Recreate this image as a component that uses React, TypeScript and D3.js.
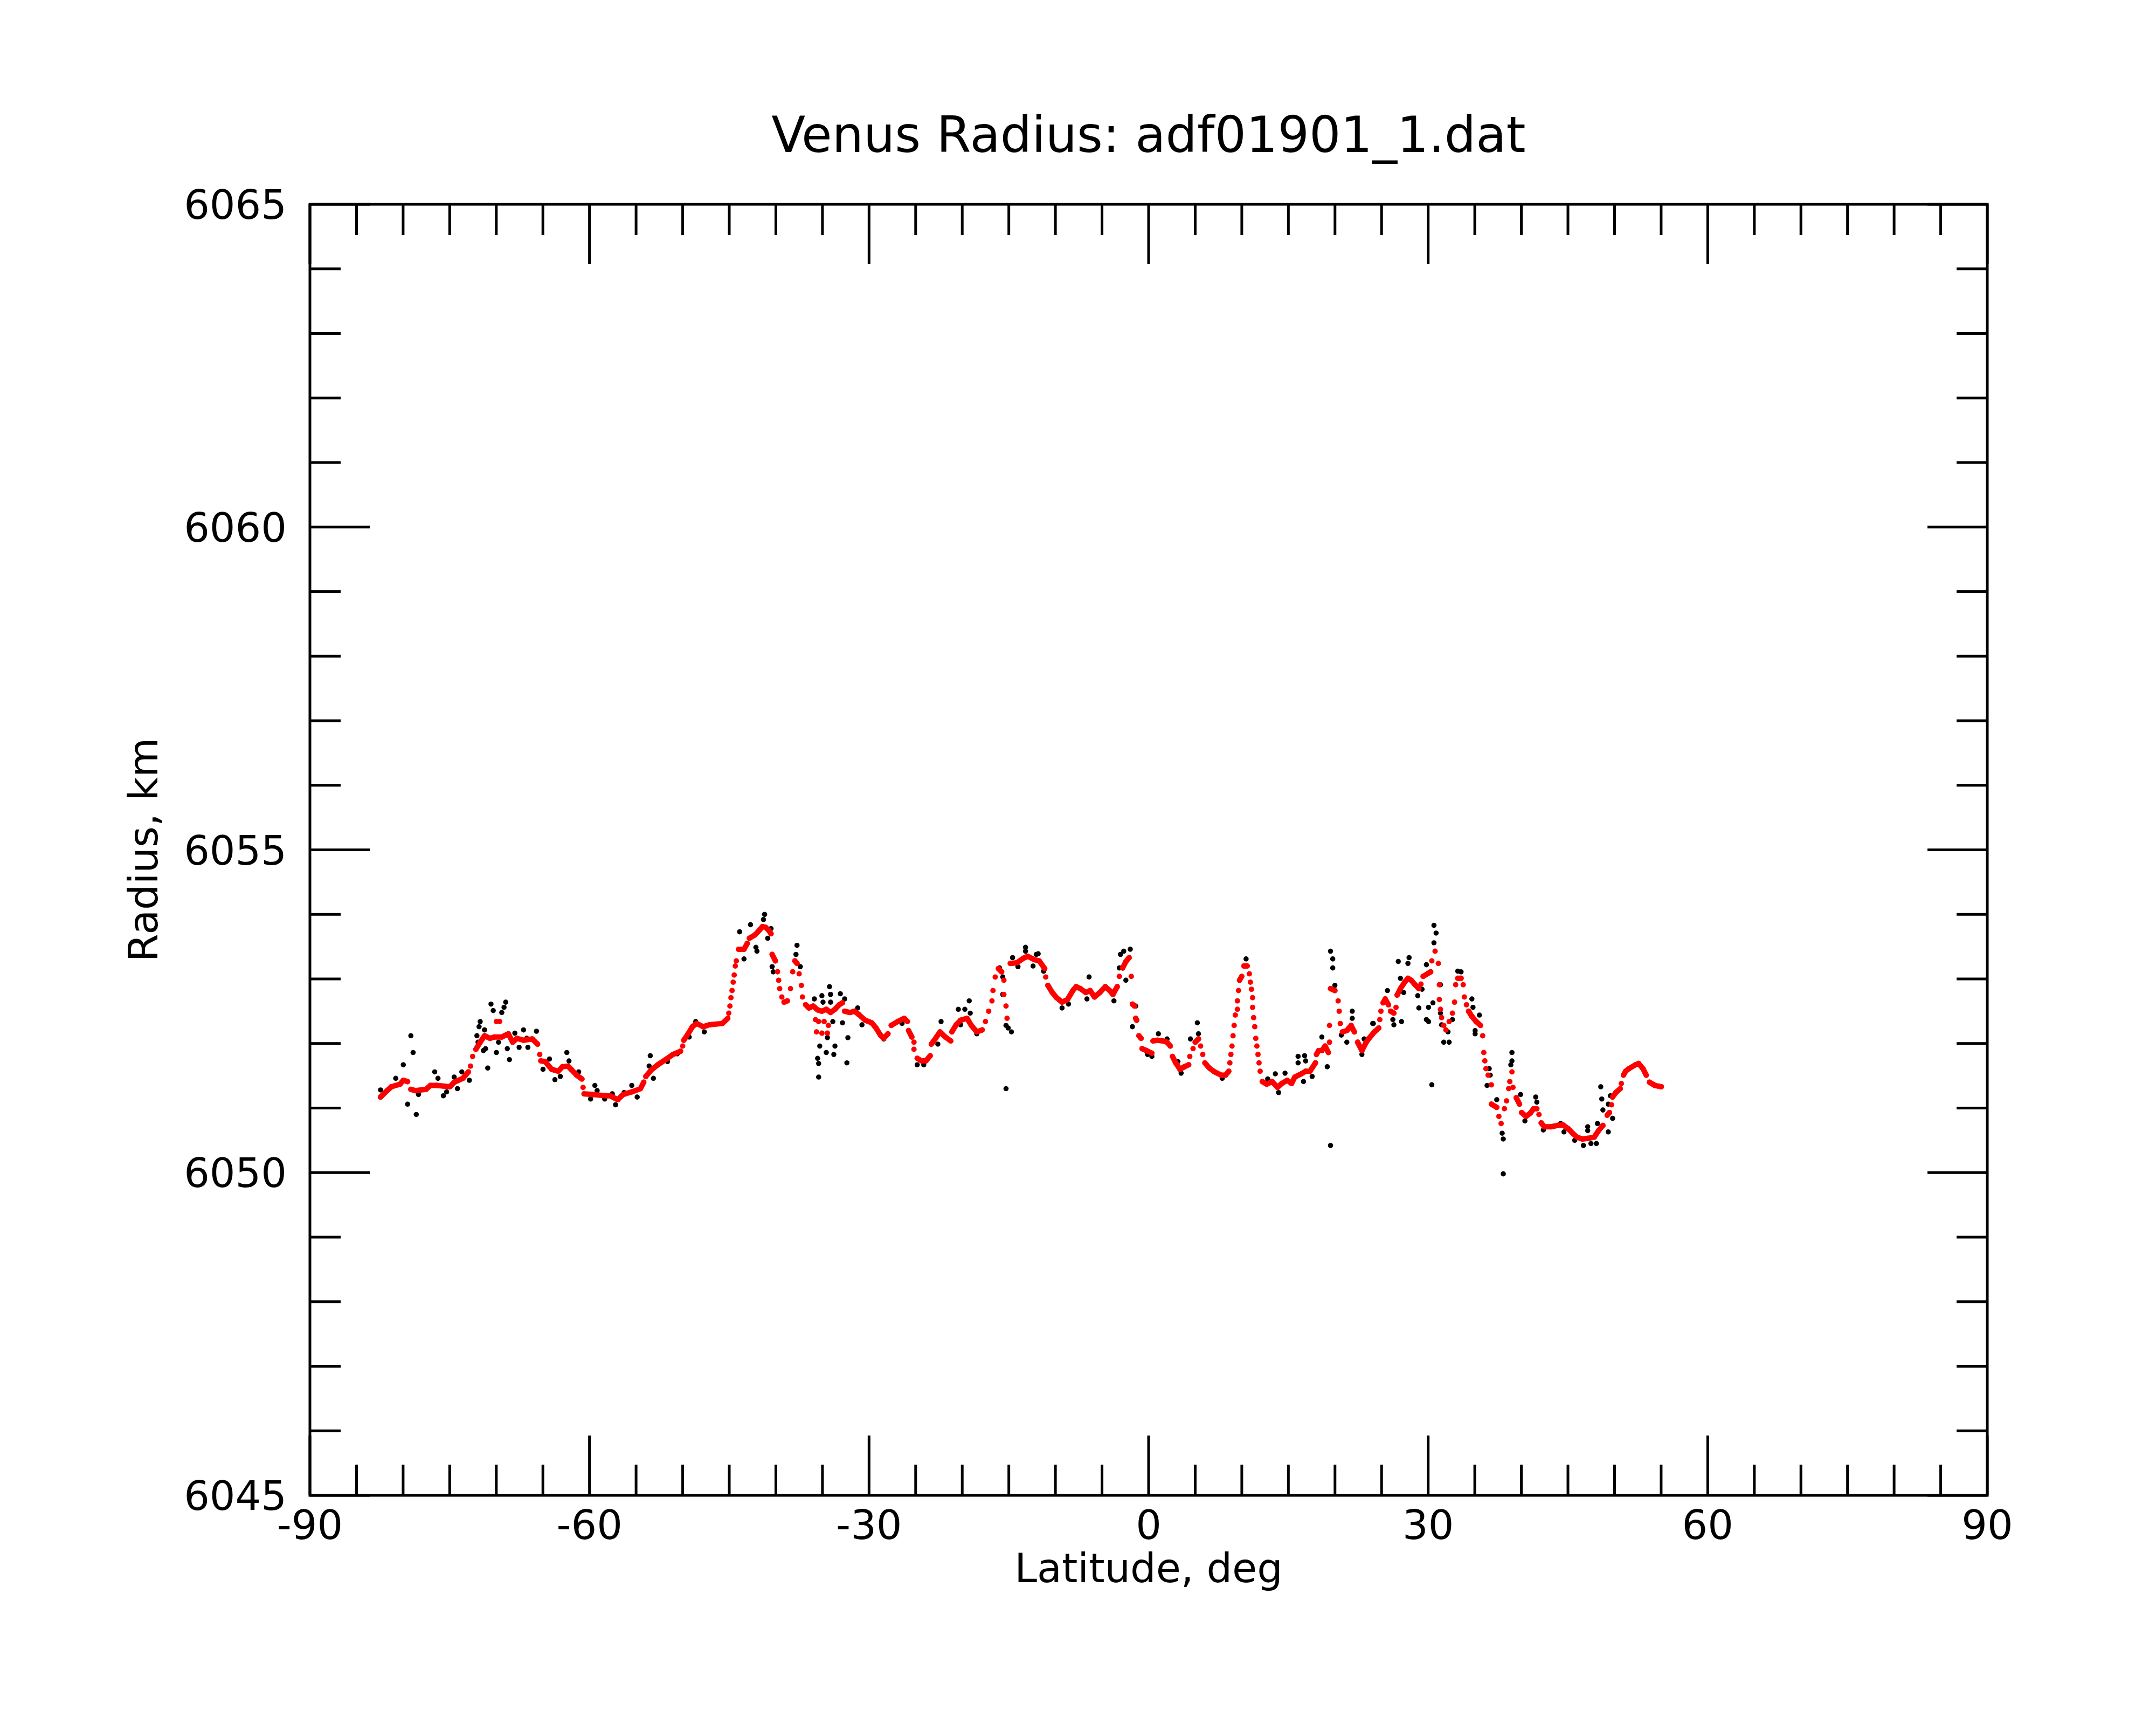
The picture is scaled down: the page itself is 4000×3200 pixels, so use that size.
import React from 'react';
import * as d3 from 'd3';

// smoothed radius profile (red), [latitude deg, radius km]
const redPoints: [number, number][] = [
  [-82.42, 6051.17], [-81.72, 6051.27], [-81.26, 6051.33], [-80.33, 6051.37], [-79.98, 6051.43],
  [-79.52, 6051.41], [-79.17, 6051.29], [-78.7, 6051.27], [-77.54, 6051.29], [-77.08, 6051.35],
  [-76.38, 6051.35], [-74.98, 6051.33], [-74.52, 6051.4], [-73.59, 6051.46], [-73.0, 6051.56],
  [-72.77, 6051.65], [-72.54, 6051.8], [-72.19, 6051.91], [-71.73, 6052.02], [-71.26, 6052.12],
  [-70.68, 6052.08], [-70.22, 6052.1], [-69.41, 6052.1], [-68.71, 6052.15], [-68.24, 6052.02],
  [-67.78, 6052.08], [-67.08, 6052.05], [-66.15, 6052.07], [-65.57, 6051.99], [-65.34, 6051.83],
  [-65.22, 6051.73], [-64.76, 6051.72], [-64.06, 6051.6], [-63.36, 6051.57], [-62.9, 6051.64],
  [-62.32, 6051.65], [-61.97, 6051.6], [-61.39, 6051.51], [-60.81, 6051.45], [-60.69, 6051.32],
  [-60.58, 6051.22], [-59.65, 6051.21], [-58.25, 6051.19], [-57.79, 6051.19], [-56.97, 6051.13],
  [-56.39, 6051.21], [-55.46, 6051.25], [-54.53, 6051.3], [-54.18, 6051.4], [-53.95, 6051.49],
  [-53.37, 6051.59], [-52.67, 6051.67], [-51.74, 6051.76], [-51.05, 6051.83], [-50.23, 6051.88],
  [-50.0, 6051.96], [-49.88, 6052.05], [-49.42, 6052.15], [-48.95, 6052.26], [-48.49, 6052.31],
  [-47.79, 6052.26], [-47.14, 6052.29], [-45.75, 6052.31], [-45.16, 6052.39], [-45.05, 6052.47],
  [-44.93, 6052.58], [-44.82, 6052.71], [-44.7, 6052.82], [-44.58, 6052.95], [-44.47, 6053.06],
  [-44.35, 6053.2], [-44.24, 6053.28], [-44.0, 6053.46], [-43.42, 6053.46], [-43.07, 6053.55],
  [-42.84, 6053.63], [-42.26, 6053.68], [-41.8, 6053.75], [-41.45, 6053.81], [-41.1, 6053.8],
  [-40.75, 6053.75], [-40.52, 6053.7], [-40.4, 6053.38], [-40.05, 6053.28], [-39.82, 6053.11],
  [-39.7, 6052.98], [-39.59, 6052.85], [-39.36, 6052.72], [-39.12, 6052.64], [-38.77, 6052.66],
  [-38.43, 6052.85], [-38.19, 6053.11], [-37.96, 6053.28], [-37.73, 6053.24], [-37.5, 6053.08],
  [-37.26, 6052.9], [-37.15, 6052.72], [-36.8, 6052.6], [-36.45, 6052.55], [-35.99, 6052.58],
  [-35.52, 6052.52], [-35.06, 6052.5], [-34.59, 6052.53], [-34.13, 6052.48], [-33.66, 6052.53],
  [-33.2, 6052.6], [-32.85, 6052.63], [-32.62, 6052.5], [-32.03, 6052.48], [-31.57, 6052.5],
  [-31.11, 6052.45], [-30.41, 6052.36], [-29.71, 6052.32], [-29.25, 6052.24], [-28.78, 6052.13],
  [-28.43, 6052.08], [-27.97, 6052.15], [-27.62, 6052.28], [-26.92, 6052.34], [-26.23, 6052.39],
  [-25.88, 6052.34], [-25.76, 6052.2], [-25.41, 6052.1], [-25.18, 6052.02], [-25.18, 6051.91],
  [-24.83, 6051.77], [-24.37, 6051.73], [-23.9, 6051.73], [-23.44, 6051.81], [-23.32, 6051.99],
  [-22.86, 6052.08], [-22.39, 6052.18], [-21.81, 6052.1], [-21.23, 6052.04], [-21.11, 6052.18],
  [-20.65, 6052.29], [-20.18, 6052.36], [-19.48, 6052.39], [-19.02, 6052.28], [-18.44, 6052.18],
  [-17.86, 6052.21], [-17.51, 6052.34], [-17.16, 6052.5], [-16.81, 6052.66], [-16.7, 6052.82],
  [-16.46, 6053.03], [-16.12, 6053.16], [-15.77, 6053.11], [-15.53, 6052.98], [-15.53, 6052.76],
  [-15.3, 6052.58], [-15.19, 6052.39], [-14.84, 6053.24], [-14.14, 6053.25], [-13.44, 6053.32],
  [-12.98, 6053.35], [-12.28, 6053.3], [-11.74, 6053.28], [-11.15, 6053.16], [-11.04, 6053.03],
  [-10.81, 6052.9], [-10.34, 6052.79], [-9.88, 6052.71], [-9.29, 6052.64], [-8.71, 6052.68],
  [-8.13, 6052.82], [-7.78, 6052.88], [-7.32, 6052.85], [-6.74, 6052.79], [-6.27, 6052.82],
  [-5.81, 6052.72], [-5.23, 6052.79], [-4.65, 6052.88], [-4.18, 6052.82], [-3.83, 6052.76],
  [-3.37, 6052.88], [-3.14, 6053.04], [-2.79, 6053.17], [-2.44, 6053.27], [-2.09, 6053.33],
  [-1.86, 6053.04], [-1.74, 6052.61], [-1.51, 6052.58], [-1.39, 6052.39], [-1.28, 6052.36],
  [-1.04, 6052.12], [-0.81, 6052.08], [-0.7, 6051.92], [-0.23, 6051.89], [0.35, 6051.85],
  [0.47, 6052.04], [0.93, 6052.05], [1.51, 6052.04], [1.98, 6052.02], [2.33, 6051.96],
  [2.56, 6051.8], [2.91, 6051.7], [3.37, 6051.6], [3.84, 6051.64], [4.3, 6051.67],
  [4.42, 6051.8], [4.77, 6051.92], [5.0, 6052.02], [5.35, 6052.07], [5.58, 6051.96],
  [5.81, 6051.83], [6.04, 6051.7], [6.51, 6051.62], [7.09, 6051.56], [7.79, 6051.51],
  [8.25, 6051.51], [8.6, 6051.57], [8.72, 6051.7], [8.83, 6051.83], [8.95, 6051.96],
  [9.06, 6052.12], [9.18, 6052.28], [9.3, 6052.44], [9.53, 6052.53], [9.53, 6052.66],
  [9.65, 6052.82], [9.76, 6052.98], [9.99, 6053.04], [10.23, 6053.2], [10.58, 6053.2],
  [10.81, 6053.08], [10.92, 6052.95], [11.04, 6052.84], [11.16, 6052.71], [11.16, 6052.56],
  [11.27, 6052.4], [11.39, 6052.26], [11.5, 6052.08], [11.62, 6051.96], [11.74, 6051.83],
  [11.85, 6051.7], [11.97, 6051.57], [12.2, 6051.41], [12.67, 6051.37], [13.25, 6051.41],
  [13.83, 6051.32], [14.29, 6051.38], [14.87, 6051.43], [15.34, 6051.38], [15.69, 6051.48],
  [16.39, 6051.53], [16.85, 6051.57], [17.32, 6051.57], [17.9, 6051.7], [18.01, 6051.83],
  [18.24, 6051.89], [18.59, 6051.89], [18.94, 6051.96], [19.29, 6051.86], [19.41, 6052.02],
  [19.41, 6052.28], [19.52, 6052.85], [19.99, 6052.82], [20.34, 6052.66], [20.45, 6052.5],
  [20.57, 6052.31], [20.8, 6052.18], [21.27, 6052.2], [21.73, 6052.28], [22.08, 6052.18],
  [22.43, 6052.02], [22.89, 6051.89], [23.36, 6052.02], [23.65, 6052.08], [24.23, 6052.18],
  [24.7, 6052.24], [24.81, 6052.37], [24.93, 6052.5], [25.16, 6052.63], [25.39, 6052.69],
  [25.74, 6052.6], [25.97, 6052.5], [26.32, 6052.47], [26.55, 6052.56], [26.67, 6052.75],
  [27.02, 6052.85], [27.48, 6052.95], [27.83, 6053.01], [28.18, 6052.98], [28.53, 6052.92],
  [29.0, 6052.85], [29.23, 6052.92], [29.46, 6053.04], [29.92, 6053.08], [30.27, 6053.11],
  [30.39, 6053.28], [30.74, 6053.43], [31.09, 6053.24], [31.2, 6052.91], [31.2, 6052.68],
  [31.32, 6052.53], [31.44, 6052.4], [31.67, 6052.28], [31.9, 6052.21], [32.25, 6052.34],
  [32.6, 6052.47], [32.83, 6052.64], [32.95, 6052.91], [33.18, 6053.01], [33.53, 6053.01],
  [33.76, 6052.91], [33.88, 6052.72], [34.11, 6052.6], [34.34, 6052.5], [34.69, 6052.42],
  [35.15, 6052.34], [35.62, 6052.28], [35.85, 6052.12], [35.97, 6051.86], [36.08, 6051.73],
  [36.2, 6051.61], [36.43, 6051.51], [36.78, 6051.36], [36.78, 6051.06], [37.36, 6051.01],
  [37.59, 6050.87], [37.83, 6050.76], [38.18, 6050.99], [38.41, 6051.11], [38.64, 6051.3],
  [38.76, 6051.41], [38.99, 6051.56], [39.1, 6051.32], [39.45, 6051.16], [39.8, 6051.06],
  [40.03, 6050.93], [40.5, 6050.87], [40.96, 6050.92], [41.31, 6050.99], [41.66, 6050.99],
  [41.89, 6050.9], [42.13, 6050.77], [42.47, 6050.71], [43.17, 6050.71], [43.87, 6050.73],
  [44.45, 6050.74], [45.03, 6050.68], [45.5, 6050.61], [45.96, 6050.55], [46.54, 6050.52],
  [47.12, 6050.53], [47.82, 6050.55], [48.28, 6050.65], [48.75, 6050.73], [49.21, 6050.89],
  [49.45, 6050.93], [49.68, 6051.05], [49.79, 6051.17], [50.14, 6051.24], [50.61, 6051.3],
  [50.73, 6051.38], [50.96, 6051.51], [51.19, 6051.57], [51.54, 6051.61], [52.24, 6051.67],
  [52.58, 6051.69], [53.05, 6051.61], [53.4, 6051.51], [53.75, 6051.4], [54.33, 6051.35],
  [55.02, 6051.33],
];

// red points lying off the main profile
const redExtra: [number, number][] = [
  [-69.99, 6052.34], [-69.64, 6052.34],
  [-35.75, 6052.37], [-35.41, 6052.34], [-34.82, 6052.34], [-34.36, 6052.28],
  [-35.64, 6052.18], [-35.06, 6052.16], [-34.47, 6052.16],
];

// raw measurements (black)
const blackPoints: [number, number][] = [
  [-82.42, 6051.28], [-80.79, 6051.46], [-79.98, 6051.67], [-79.52, 6051.06], [-79.17, 6052.12],
  [-78.93, 6051.86], [-78.59, 6050.9], [-78.35, 6051.21], [-76.61, 6051.56], [-76.26, 6051.46],
  [-75.68, 6051.19], [-75.33, 6051.25], [-74.52, 6051.48], [-74.17, 6051.3], [-73.7, 6051.56],
  [-72.89, 6051.43], [-72.08, 6052.12], [-71.96, 6052.02], [-71.85, 6052.26], [-71.73, 6052.34],
  [-71.38, 6051.89], [-71.26, 6052.21], [-71.15, 6051.92], [-70.92, 6051.62], [-70.57, 6052.61],
  [-70.33, 6052.51], [-69.99, 6051.86], [-69.76, 6052.02], [-69.41, 6052.48], [-69.17, 6052.56],
  [-68.99, 6052.64], [-68.82, 6051.92], [-68.59, 6051.75], [-68.01, 6052.16], [-67.55, 6051.94],
  [-67.08, 6052.21], [-66.73, 6052.08], [-66.61, 6051.94], [-65.69, 6052.19], [-64.99, 6051.6],
  [-64.29, 6051.76], [-63.71, 6051.44], [-63.13, 6051.49], [-62.43, 6051.86], [-62.2, 6051.73],
  [-61.16, 6051.56], [-59.88, 6051.14], [-59.42, 6051.35], [-59.18, 6051.27], [-58.37, 6051.14],
  [-57.55, 6051.22], [-57.2, 6051.05], [-56.28, 6051.24], [-55.46, 6051.35], [-54.88, 6051.17],
  [-53.6, 6051.65], [-53.48, 6051.81], [-53.14, 6051.46], [-51.63, 6051.72], [-50.58, 6051.84],
  [-49.3, 6052.1], [-48.6, 6052.34], [-47.68, 6052.18],
  [-43.89, 6053.73], [-43.42, 6053.31], [-42.72, 6053.84], [-42.14, 6053.49], [-42.03, 6053.43],
  [-41.33, 6053.92], [-41.21, 6054.0], [-40.87, 6053.63], [-40.52, 6053.78], [-40.4, 6053.19],
  [-40.28, 6053.11], [-37.84, 6053.38], [-37.73, 6053.52], [-37.38, 6053.19], [-35.87, 6052.69],
  [-35.52, 6051.77], [-35.41, 6051.69], [-35.41, 6051.48], [-35.29, 6051.96], [-35.06, 6052.74],
  [-34.94, 6052.64], [-34.59, 6051.86], [-34.47, 6052.09], [-34.24, 6052.88], [-34.13, 6052.76],
  [-34.13, 6052.64], [-33.89, 6052.34], [-33.78, 6051.83], [-33.66, 6051.96], [-33.08, 6052.77],
  [-32.85, 6052.32], [-32.62, 6052.69], [-32.38, 6051.7], [-32.27, 6052.09], [-31.22, 6052.55],
  [-30.76, 6052.29], [-28.43, 6052.07], [-26.46, 6052.31], [-24.83, 6051.67], [-24.13, 6051.67],
  [-22.62, 6051.99], [-22.27, 6052.34], [-20.42, 6052.53], [-20.18, 6052.29], [-19.72, 6052.53],
  [-19.25, 6052.66], [-19.14, 6052.47], [-18.44, 6052.15], [-16.0, 6053.17], [-15.65, 6053.03],
  [-15.65, 6052.76], [-15.3, 6052.28], [-15.3, 6051.3], [-15.07, 6052.24], [-14.72, 6052.18],
  [-14.6, 6053.33], [-14.02, 6053.19], [-13.21, 6053.49], [-13.21, 6053.43], [-12.4, 6053.2],
  [-12.05, 6053.38],
  [-11.85, 6053.39], [-11.27, 6053.12], [-9.29, 6052.55], [-8.6, 6052.61], [-6.62, 6052.69],
  [-6.39, 6053.03], [-3.72, 6052.66], [-3.14, 6053.17], [-3.02, 6053.38], [-2.67, 6053.43],
  [-2.44, 6052.98], [-1.97, 6053.46], [-1.74, 6052.26], [-1.39, 6052.58], [-0.11, 6051.83],
  [0.35, 6051.8], [1.05, 6052.15], [1.98, 6052.07], [3.14, 6051.72], [3.49, 6051.54],
  [4.49, 6052.07], [5.23, 6052.32], [5.35, 6052.15], [7.9, 6051.46], [10.46, 6053.31],
  [12.78, 6051.45], [13.6, 6051.53], [13.95, 6051.24], [14.64, 6051.54], [16.04, 6051.8],
  [16.04, 6051.7], [16.62, 6051.41], [16.74, 6051.81], [16.85, 6051.73], [17.55, 6051.49],
  [18.59, 6052.1], [19.17, 6051.64], [19.52, 6050.42], [19.52, 6053.43], [19.76, 6053.31],
  [19.76, 6053.17], [19.99, 6052.9], [20.68, 6052.13], [21.27, 6052.02], [21.85, 6052.5],
  [21.85, 6052.39], [22.89, 6051.83], [23.13, 6052.07], [24.05, 6052.31],
  [24.11, 6052.31], [25.63, 6052.82], [26.21, 6052.37], [26.32, 6052.29], [26.79, 6053.27],
  [27.02, 6053.01], [27.14, 6052.34], [27.37, 6052.79], [27.83, 6053.24], [27.95, 6053.33],
  [28.88, 6052.74], [29.0, 6052.55], [29.34, 6052.84], [29.81, 6053.22], [29.81, 6052.37],
  [30.04, 6052.56], [30.04, 6052.34], [30.39, 6051.36], [30.51, 6052.63], [30.62, 6053.83],
  [30.62, 6053.56], [30.85, 6053.71], [31.32, 6052.91], [31.32, 6052.47], [31.44, 6052.29],
  [31.67, 6052.02], [32.13, 6052.18], [32.25, 6052.02], [32.6, 6052.37], [33.18, 6053.12],
  [33.53, 6053.11], [34.69, 6052.69], [34.81, 6052.56], [35.04, 6052.2], [35.04, 6052.15],
  [35.5, 6052.44], [36.32, 6051.35], [36.55, 6051.61], [36.66, 6051.51], [37.36, 6051.13],
  [37.94, 6050.61], [38.06, 6050.52], [38.06, 6049.98], [38.87, 6051.67], [38.99, 6051.86],
  [38.99, 6051.73], [39.92, 6051.21], [40.38, 6050.8], [41.54, 6051.17], [41.66, 6051.09],
  [42.36, 6050.66], [44.22, 6050.76], [44.57, 6050.63], [45.73, 6050.5], [46.66, 6050.42],
  [47.12, 6050.71], [47.12, 6050.65], [47.47, 6050.45], [48.05, 6050.45], [48.17, 6050.76],
  [48.52, 6051.33], [48.63, 6051.14], [48.75, 6050.97], [49.33, 6051.06], [49.33, 6050.63],
  [49.56, 6051.19], [49.79, 6050.84],
];

const latTicks = [-90, -60, -30, 0, 30, 60, 90];
const radiusTicks = [6045, 6050, 6055, 6060, 6065];

const W = 4000;
const H = 3200;
const M = { left: 575, right: 3687, top: 379, bottom: 2774 };
const FONT = 'DejaVu Sans, Verdana, sans-serif';

export default function App() {
  const x = d3.scaleLinear().domain([-90, 90]).range([M.left, M.right]);
  const y = d3.scaleLinear().domain([6045, 6065]).range([M.bottom, M.top]);

  const minorX = d3.range(-90, 90.1, 5).filter((v) => !latTicks.includes(v));
  const minorY = d3.range(6045, 6065.1, 1).filter((v) => !radiusTicks.includes(v));

  // join neighbouring red samples where the profile is shallow, so it reads as a chain
  const links: string[] = [];
  for (let i = 1; i < redPoints.length; i++) {
    const x0 = x(redPoints[i - 1][0]);
    const y0 = y(redPoints[i - 1][1]);
    const x1 = x(redPoints[i][0]);
    const y1 = y(redPoints[i][1]);
    if (Math.abs(y1 - y0) <= 2 * Math.abs(x1 - x0) && Math.hypot(x1 - x0, y1 - y0) < 45) {
      links.push(`M${x0},${y0}L${x1},${y1}`);
    }
  }

  const stroke = 5;
  const majorLen = 111;
  const minorLen = 57;

  return (
    <svg width={W} height={H} style={{ position: 'absolute', left: 0, top: 0, background: '#fff' }}>
      <rect x={0} y={0} width={W} height={H} fill="#fff" />
      <text x={(M.left + M.right) / 2} y={282} fontFamily={FONT} fontSize={92} textAnchor="middle">
        Venus Radius: adf01901_1.dat
      </text>

      <g>
        {blackPoints.map((d, i) => (
          <circle key={i} cx={x(d[0])} cy={y(d[1])} r={4.8} fill="#000" />
        ))}
      </g>
      <g>
        <path d={links.join('')} stroke="#ff0000" strokeWidth={10} strokeLinecap="round" fill="none" />
        {redPoints.concat(redExtra).map((d, i) => (
          <circle key={i} cx={x(d[0])} cy={y(d[1])} r={5} fill="#ff0000" />
        ))}
      </g>

      <g stroke="#000" strokeWidth={stroke}>
        {latTicks.map((v) => (
          <g key={'mx' + v}>
            <line x1={x(v)} x2={x(v)} y1={M.bottom} y2={M.bottom - majorLen} />
            <line x1={x(v)} x2={x(v)} y1={M.top} y2={M.top + majorLen} />
          </g>
        ))}
        {minorX.map((v) => (
          <g key={'nx' + v}>
            <line x1={x(v)} x2={x(v)} y1={M.bottom} y2={M.bottom - minorLen} />
            <line x1={x(v)} x2={x(v)} y1={M.top} y2={M.top + minorLen} />
          </g>
        ))}
        {radiusTicks.map((v) => (
          <g key={'my' + v}>
            <line x1={M.left} x2={M.left + majorLen} y1={y(v)} y2={y(v)} />
            <line x1={M.right} x2={M.right - majorLen} y1={y(v)} y2={y(v)} />
          </g>
        ))}
        {minorY.map((v) => (
          <g key={'ny' + v}>
            <line x1={M.left} x2={M.left + minorLen} y1={y(v)} y2={y(v)} />
            <line x1={M.right} x2={M.right - minorLen} y1={y(v)} y2={y(v)} />
          </g>
        ))}
        <rect
          x={M.left}
          y={M.top}
          width={M.right - M.left}
          height={M.bottom - M.top}
          fill="none"
          strokeLinejoin="miter"
        />
      </g>

      <g fontFamily={FONT} fontSize={75} fill="#000">
        {latTicks.map((v) => (
          <text key={'lx' + v} x={x(v)} y={2855} textAnchor="middle">
            {v}
          </text>
        ))}
        {radiusTicks.map((v) => (
          <text key={'ly' + v} x={532} y={y(v) + 27} textAnchor="end">
            {v}
          </text>
        ))}
        <text x={(M.left + M.right) / 2} y={2935} textAnchor="middle">
          Latitude, deg
        </text>
        <text transform={`translate(292,${(M.top + M.bottom) / 2}) rotate(-90)`} textAnchor="middle">
          Radius, km
        </text>
      </g>
    </svg>
  );
}
